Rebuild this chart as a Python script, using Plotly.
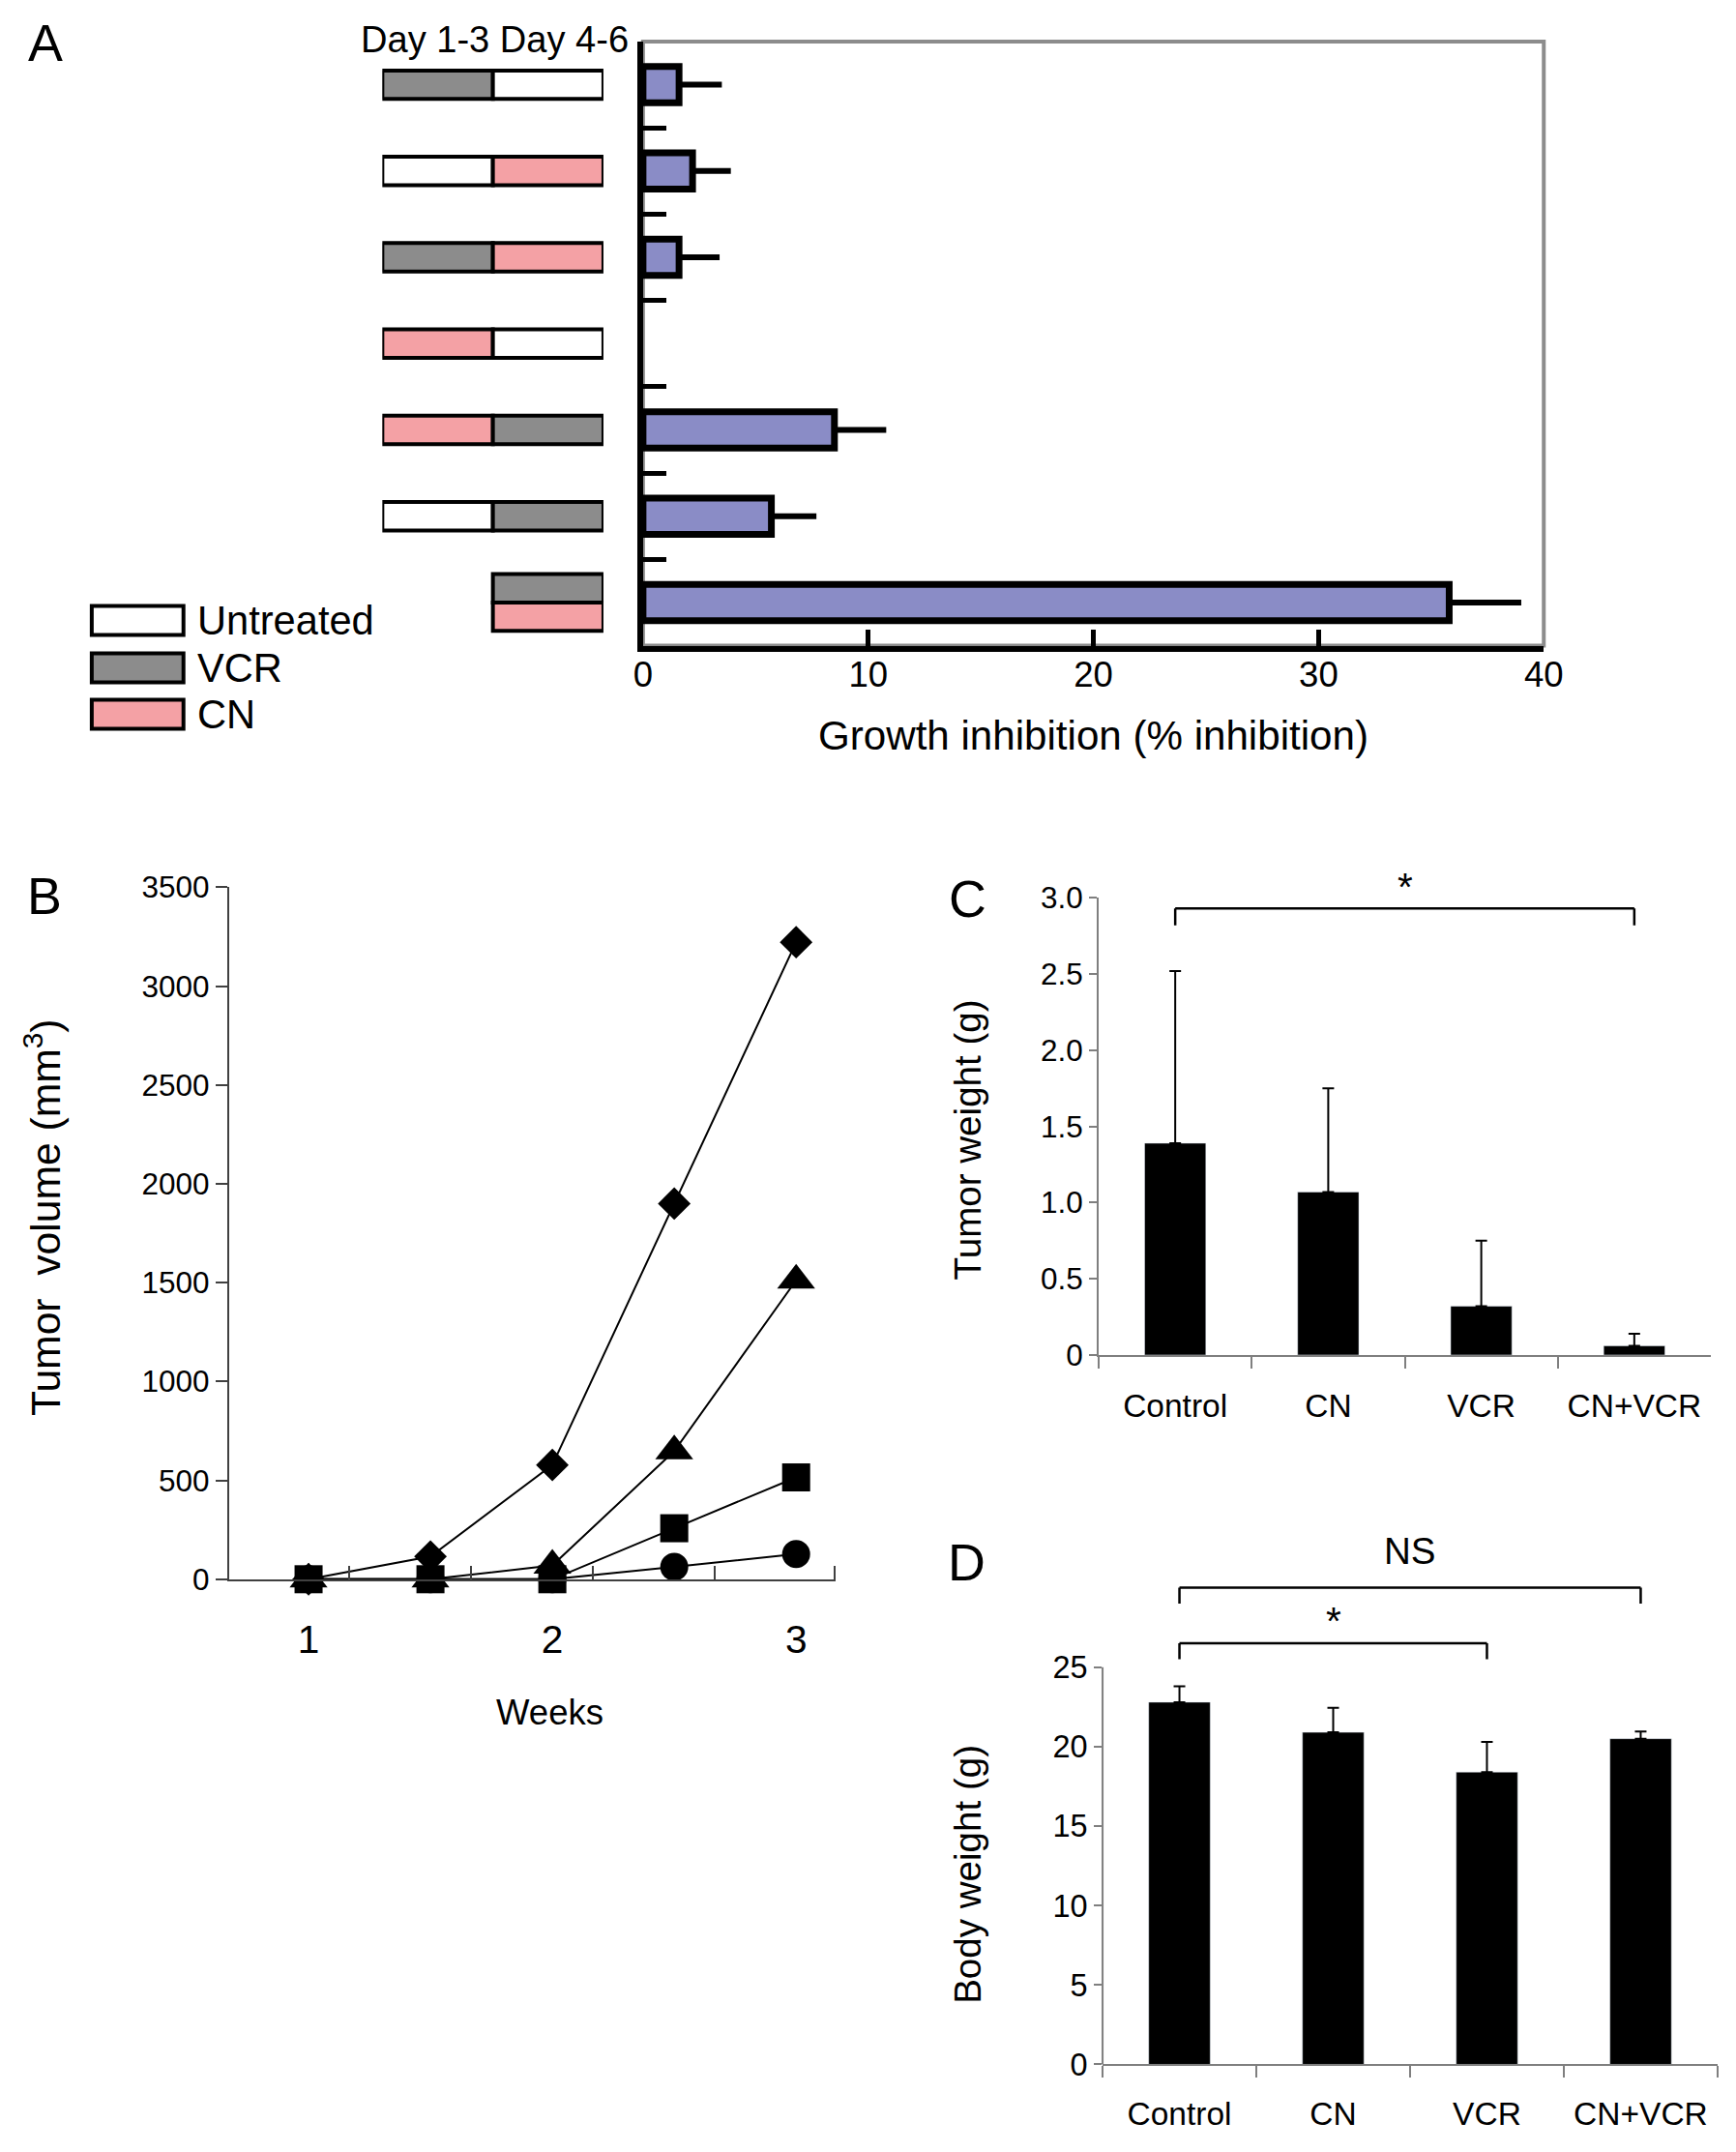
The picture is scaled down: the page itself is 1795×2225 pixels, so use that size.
import plotly.graph_objects as go

W, H = 1795, 2225
FONT = "Liberation Sans, Arial, sans-serif"
FONT_L = "Liberation Sans, Arial, sans-serif"

# ---------------- data ----------------
# Panel A
a_day13 = ["VCR", "Untreated", "VCR", "CN", "CN", "Untreated", ""]
a_day46 = ["Untreated", "CN", "CN", "Untreated", "VCR", "VCR", "VCR+CN"]
a_inhibition = [1.6, 2.2, 1.6, 0.0, 8.5, 5.7, 35.8]
a_err = [1.9, 1.7, 1.8, 0.0, 2.3, 2.0, 3.2]
a_xticks = [0, 10, 20, 30, 40]
legend_items = ["Untreated", "VCR", "CN"]
treat_colors = {"Untreated": "#FFFFFF", "VCR": "#8C8C8C", "CN": "#F4A1A5"}

# Panel B
b_weeks = [1, 1.5, 2, 2.5, 3]
b_diamond = [0, 115, 578, 1900, 3222]
b_triangle = [0, 0, 70, 648, 1512]
b_circle = [0, 0, 0, 63, 127]
b_square = [0, 0, 0, 258, 515]
b_yticks = [0, 500, 1000, 1500, 2000, 2500, 3000, 3500]
b_xticks = [1, 2, 3]

# Panels C, D
groups = ["Control", "CN", "VCR", "CN+VCR"]
c_weight = [1.39, 1.07, 0.32, 0.06]
c_err = [1.13, 0.68, 0.43, 0.08]
c_yticks = [0, 0.5, 1.0, 1.5, 2.0, 2.5, 3.0]
c_yticklabels = ["0", "0.5", "1.0", "1.5", "2.0", "2.5", "3.0"]
c_brackets = [("Control", "CN+VCR", "*")]

d_weight = [22.8, 20.9, 18.4, 20.5]
d_err = [1.0, 1.55, 1.9, 0.45]
d_yticks = [0, 5, 10, 15, 20, 25]
d_brackets = [("Control", "CN+VCR", "NS"), ("Control", "VCR", "*")]

# page placement: the photographed page shows the figure slightly inset/scaled
OX, OY, SC = 17.0, 24.0, 0.985


def px(x):
    return ((x - OX) / SC) / W


def py(y):
    return 1 - ((y - OY) / SC) / H


def fs(s):
    return s / SC


fig = go.Figure()

# ---------------- Panel A ----------------
rows = list(range(len(a_inhibition)))
fig.add_trace(go.Bar(
    orientation="h", y=rows, x=a_inhibition, width=0.42,
    marker=dict(color="#8A8CC6",
                line=dict(color="black", width=[7 if v > 0 else 0 for v in a_inhibition])),
    error_x=dict(type="data", symmetric=False, array=a_err,
                 arrayminus=[0] * len(a_err), thickness=6, width=0, color="black"),
    xaxis="x", yaxis="y", showlegend=False))

BOX_H = 0.33
seg_y, seg_base, seg_w, seg_off, seg_col = [], [], [], [], []
for r, periods in enumerate(zip(a_day13, a_day46)):
    for p, t in enumerate(periods):
        if not t:
            continue
        parts = t.split("+")
        n = len(parts)
        for k, part in enumerate(parts):
            seg_y.append(r)
            seg_base.append(p)
            seg_w.append(BOX_H)
            seg_off.append(-n * BOX_H / 2 + k * BOX_H)
            seg_col.append(treat_colors[part])
fig.add_trace(go.Bar(
    orientation="h", y=seg_y, x=[1] * len(seg_y), base=seg_base,
    width=seg_w, offset=seg_off,
    marker=dict(color=seg_col, line=dict(color="black", width=4)),
    xaxis="x2", yaxis="y2", showlegend=False, hoverinfo="skip"))

# ---------------- Panel B ----------------
series_b = [
    (b_diamond, "diamond", 26),
    (b_triangle, "triangle-up", 34),
    (b_circle, "circle", 29),
    (b_square, "square", 29),
]
for vals, sym, sz in series_b:
    fig.add_trace(go.Scatter(
        x=b_weeks, y=vals, mode="lines+markers",
        line=dict(color="black", width=2),
        marker=dict(symbol=sym, size=sz, color="black"),
        cliponaxis=False, xaxis="x3", yaxis="y3", showlegend=False))

# ---------------- Panel C ----------------
fig.add_trace(go.Bar(
    x=groups, y=c_weight, width=0.4, marker=dict(color="black"),
    error_y=dict(type="data", symmetric=False, array=c_err,
                 arrayminus=[0] * len(c_err), thickness=2, width=6, color="black"),
    xaxis="x4", yaxis="y4", showlegend=False))

# ---------------- Panel D ----------------
fig.add_trace(go.Bar(
    x=groups, y=d_weight, width=0.4, marker=dict(color="black"),
    error_y=dict(type="data", symmetric=False, array=d_err,
                 arrayminus=[0] * len(d_err), thickness=2, width=6, color="black"),
    xaxis="x5", yaxis="y5", showlegend=False))

GRAY = "#7F7F7F"
BLINE = "#404040"
nrows = len(a_inhibition)
C_TOP = c_yticks[-1]
D_TOP = 33

fig.update_layout(
    width=W, height=H, margin=dict(l=0, r=0, t=0, b=0),
    paper_bgcolor="white", plot_bgcolor="rgba(0,0,0,0)",
    barmode="overlay", font=dict(family=FONT, color="black"),
    xaxis=dict(domain=[px(665), px(1598)], range=[0, 40], anchor="y",
               showline=True, linecolor="black", linewidth=6,
               ticks="inside", ticklen=17, tickwidth=5, tickcolor="black",
               tickvals=a_xticks, tickfont=dict(size=fs(36), family=FONT),
               ticklabelstandoff=-7, showgrid=False, zeroline=False),
    yaxis=dict(domain=[py(667), py(42)], range=[nrows - 0.5, -0.5], anchor="x",
               showline=True, linecolor="black", linewidth=6,
               ticks="inside", ticklen=24, tickwidth=5, tickcolor="black",
               tickvals=[r - 0.5 for r in rows], showticklabels=False,
               showgrid=False, zeroline=False),
    xaxis2=dict(domain=[px(395), px(624)], range=[0, 2], anchor="y2", visible=False),
    yaxis2=dict(domain=[py(667), py(42)], range=[nrows - 0.5, -0.5], anchor="x2",
                visible=False),
    xaxis3=dict(domain=[px(236), px(864)], range=[0.673, 3.16], anchor="y3",
                showline=True, linecolor=BLINE, linewidth=1.5,
                tickvals=b_xticks, ticks="", ticklabelstandoff=26,
                minor=dict(tickvals=[1.166, 1.666, 2.166, 2.666, 3.158], ticks="inside",
                           ticklen=14, tickwidth=1.5, tickcolor=BLINE),
                tickfont=dict(size=fs(40), family=FONT), showgrid=False, zeroline=False),
    yaxis3=dict(domain=[py(1633), py(917)], range=[0, 3500], anchor="x3",
                showline=True, linecolor=BLINE, linewidth=1.5,
                ticks="outside", ticklen=12, tickwidth=1.5, tickcolor=BLINE,
                tickvals=b_yticks, tickfont=dict(size=fs(31), family=FONT),
                showgrid=False, zeroline=False),
    xaxis4=dict(domain=[px(1137), px(1771)], type="category", anchor="y4",
                categoryorder="array", categoryarray=groups,
                showline=True, linecolor=GRAY, linewidth=2,
                ticks="outside", tickson="boundaries", ticklen=12, tickwidth=2,
                tickcolor=GRAY, ticklabelstandoff=22, tickangle=0,
                tickfont=dict(size=fs(33), family=FONT), showgrid=False),
    yaxis4=dict(domain=[py(1401), py(928)], range=[0, C_TOP], anchor="x4",
                showline=True, linecolor=GRAY, linewidth=2,
                ticks="outside", ticklen=8, tickwidth=2, tickcolor=GRAY,
                tickvals=c_yticks, ticktext=c_yticklabels,
                tickfont=dict(size=fs(31), family=FONT), showgrid=False, zeroline=False),
    xaxis5=dict(domain=[px(1141), px(1778)], type="category", anchor="y5",
                categoryorder="array", categoryarray=groups,
                showline=True, linecolor=GRAY, linewidth=2,
                ticks="outside", tickson="boundaries", ticklen=12, tickwidth=2,
                tickcolor=GRAY, ticklabelstandoff=20, tickangle=0,
                tickfont=dict(size=fs(33), family=FONT), showgrid=False),
    yaxis5=dict(domain=[py(2135), py(1592.5)], range=[0, D_TOP], anchor="x5",
                showline=False, ticks="outside", ticklen=8, tickwidth=2, tickcolor=GRAY,
                tickvals=d_yticks, tickfont=dict(size=fs(32), family=FONT),
                showgrid=False, zeroline=False),
)

shapes = []
# gray frame of panel A (top/right), black axes drawn over it
shapes.append(dict(type="rect", xref="x domain", yref="y domain", x0=0, x1=1, y0=0, y1=1,
                   line=dict(color="#8C8C8C", width=4), layer="below"))
# D y-axis line (0..25 only)
shapes.append(dict(type="line", xref="x5 domain", yref="y5", x0=0, x1=0,
                   y0=d_yticks[0], y1=d_yticks[-1], line=dict(color=GRAY, width=2)))

annotations = []


def add_bracket(xa, ya, top, g0, g1, ylow, ytop, text, ytext, fsize):
    i0, i1 = groups.index(g0), groups.index(g1)
    for (x0, y0, x1, y1) in [(i0, ylow, i0, ytop), (i0, ytop, i1, ytop), (i1, ytop, i1, ylow)]:
        shapes.append(dict(type="line", xref=xa, yref=ya, x0=x0, y0=y0, x1=x1, y1=y1,
                           line=dict(color="black", width=2.5)))
    annotations.append(dict(xref=xa, yref=ya + " domain", x=(i0 + i1) / 2, y=ytext / top,
                            text=text, showarrow=False, font=dict(size=fs(fsize), family=FONT),
                            xanchor="center", yanchor="middle"))


add_bracket("x4", "y4", C_TOP, *c_brackets[0][:2], 2.82, 2.93, c_brackets[0][2], 3.07, 40)
add_bracket("x5", "y5", D_TOP, *d_brackets[0][:2], 29.0, 30.0, d_brackets[0][2], 32.3, 38)
add_bracket("x5", "y5", D_TOP, *d_brackets[1][:2], 25.5, 26.5, d_brackets[1][2], 27.9, 40)

# legend boxes of panel A
leg_cy = [641, 690, 738]
for name, cy in zip(legend_items, leg_cy):
    shapes.append(dict(type="rect", xref="paper", yref="paper",
                       x0=px(94), x1=px(189), y0=py(cy + 15), y1=py(cy - 15),
                       fillcolor=treat_colors[name], line=dict(color="black", width=4)))
    annotations.append(dict(xref="paper", yref="paper", x=px(201), y=py(cy),
                            text=name, showarrow=False, xanchor="left", yanchor="middle",
                            font=dict(size=fs(41), family=FONT)))


def txt(x, y, text, size, family=FONT, angle=0, ymin=None):
    yy = py(y)
    if ymin is not None:
        yy = min(yy, 1 - ymin / H)
    annotations.append(dict(xref="paper", yref="paper", x=px(x), y=yy, text=text,
                            showarrow=False, xanchor="center", yanchor="middle",
                            textangle=angle, font=dict(size=size and fs(size), family=family)))


txt(511, 28, "Day 1-3 Day 4-6", 37.5, ymin=16)
txt(1131, 760, "Growth inhibition (% inhibition)", 41.5)
txt(568, 1771, "Weeks", 36)
txt(43, 1258, "Tumor  volume (mm<sup>3</sup>)", 42, angle=-90)
txt(1001, 1178, "Tumor weight (g)", 38, angle=-90)
txt(1001, 1938, "Body weight (g)", 38, angle=-90)
txt(46, 36, "A", 53, FONT_L, ymin=19)
txt(45, 926, "B", 53, FONT_L)
txt(1001, 929, "C", 53, FONT_L)
txt(1000, 1615, "D", 53, FONT_L)

fig.update_layout(shapes=shapes, annotations=annotations)
fig.write_html("out.html")
